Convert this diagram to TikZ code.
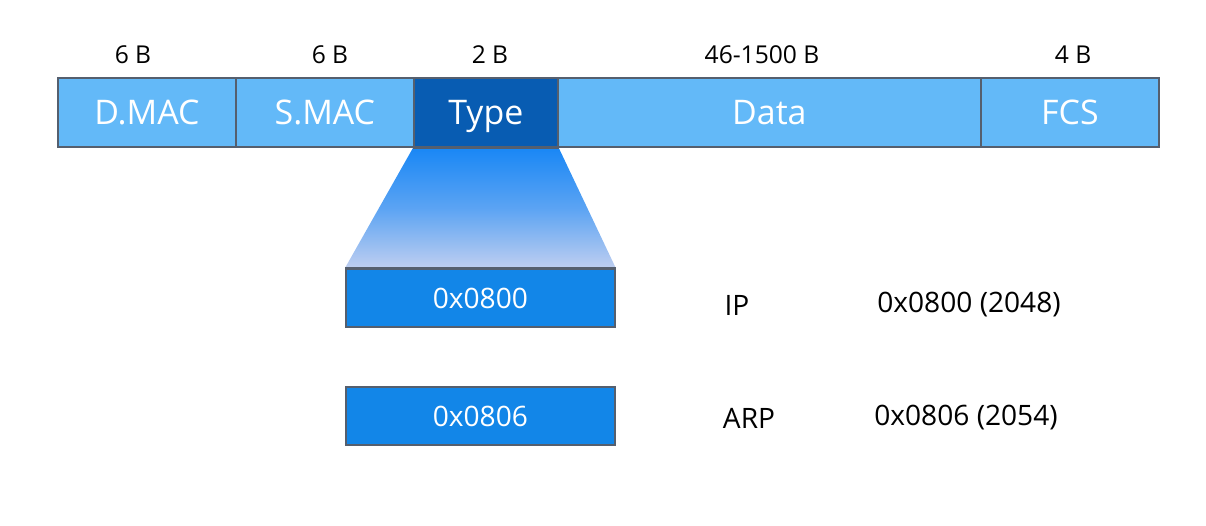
\documentclass[tikz,border=0pt]{standalone}
\usepackage{fontspec}
\setmainfont{Open Sans}
\usetikzlibrary{positioning}
\definecolor{field}{RGB}{99, 185, 248}
\definecolor{typefield}{RGB}{8, 92, 178}
\definecolor{valbox}{RGB}{18, 134, 232}
\definecolor{edge}{RGB}{85, 95, 110}
\definecolor{fadetop}{RGB}{25, 135, 245}
\definecolor{fadebot}{RGB}{190, 206, 240}

\tikzset{
  fieldbox/.style={draw=edge, line width=1pt, fill=field, text=white,
    minimum height=1.38cm, inner sep=0pt, text height=14pt, text depth=0pt,
    anchor=west, font=\fontsize{19.3}{21}\selectfont},
  valuebox/.style={draw=edge, line width=1pt, fill=valbox, text=white,
    minimum width=5.38cm, minimum height=1.17cm, inner sep=0pt,
    font=\fontsize{16}{18}\selectfont},
  sizelabel/.style={font=\fontsize{14}{16}\selectfont},
  infotext/.style={font=\fontsize{16}{18}\selectfont}
}

\begin{document}
\begin{tikzpicture}
  \useasboundingbox (0,0) rectangle (24.12,-10.52);

  % Frame fields
  \node[fieldbox, minimum width=3.56cm] (dmac) at (1.14,-2.25) {D.MAC};
  \node[fieldbox, minimum width=3.56cm] (smac) at (4.70,-2.25) {S.MAC};
  \node[fieldbox, minimum width=2.88cm, fill=typefield] (type) at (8.26,-2.25) {Type};
  \node[fieldbox, minimum width=8.46cm] (data) at (11.14,-2.25) {Data};
  \node[fieldbox, minimum width=3.56cm] (fcs) at (19.60,-2.25) {FCS};

  % Field sizes
  \node[sizelabel] (ldmac) at (2.66,-1.1) {6 B};
  \node[sizelabel] (lsmac) at (6.6,-1.1) {6 B};
  \node[sizelabel] (ltype) at (9.8,-1.1) {2 B};
  \node[sizelabel] (ldata) at (15.24,-1.1) {46-1500 B};
  \node[sizelabel] (lfcs) at (21.46,-1.1) {4 B};

  % Type values
  \node[valuebox, anchor=north west] (vip) at (6.9,-5.36) {0x0800};
  \node[valuebox, anchor=north west] (varp) at (6.9,-7.72) {0x0806};

  % Zoom from Type field
  \shade[top color=fadetop, bottom color=fadebot, middle color=fadetop!60!fadebot]
    (type.south west) -- (type.south east) -- (vip.north east) -- (vip.north west) -- cycle;
  \draw[edge, line width=1pt] (type.south west) -- (type.south east);
  \draw[edge, line width=1pt] (vip.north west) -- (vip.north east);

  % Protocols
  \node[infotext] (pip) at (14.74,-6.1) {IP};
  \node[infotext] (nip) at (19.38,-6.1) {0x0800 (2048)};
  \node[infotext] (parp) at (14.98,-8.36) {ARP};
  \node[infotext] (narp) at (19.32,-8.36) {0x0806 (2054)};
\end{tikzpicture}
\end{document}
